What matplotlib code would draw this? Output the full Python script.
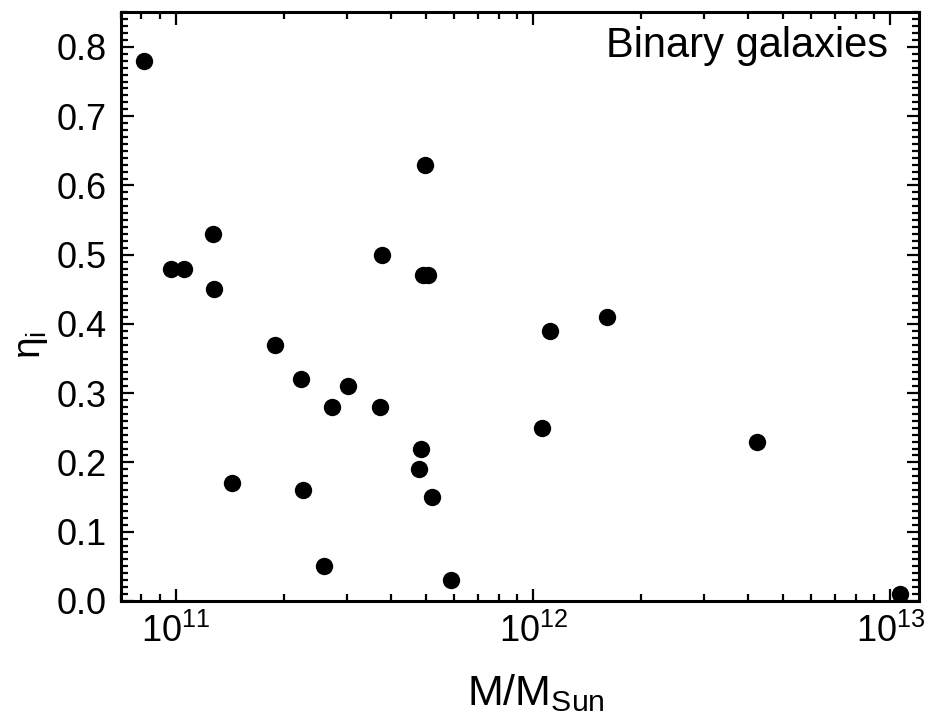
import numpy as np
import matplotlib
matplotlib.use("Agg")
import matplotlib.pyplot as plt
from matplotlib.ticker import LogLocator, MultipleLocator, FormatStrFormatter

# ---------------- DATA ----------------
mass = [8.15e10, 9.7e10, 1.05e11, 1.27e11, 1.28e11, 1.43e11, 1.89e11,
        2.23e11, 2.27e11, 2.60e11, 2.73e11, 3.03e11, 3.72e11, 3.77e11,
        4.97e11, 4.92e11, 5.08e11, 4.85e11, 4.79e11, 5.19e11, 5.88e11,
        1.055e12, 1.116e12, 1.61e12, 4.23e12, 1.06e13]
eta = [0.78, 0.48, 0.48, 0.53, 0.45, 0.17, 0.37,
       0.32, 0.16, 0.05, 0.28, 0.31, 0.28, 0.50,
       0.63, 0.47, 0.47, 0.22, 0.19, 0.15, 0.03,
       0.25, 0.39, 0.41, 0.23, 0.01]

# ---------------- STYLE ----------------
plt.rcParams["font.family"] = ["Liberation Sans", "DejaVu Sans"]
plt.rcParams["mathtext.fontset"] = "custom"
plt.rcParams["mathtext.rm"] = "Liberation Sans"
plt.rcParams["mathtext.it"] = "Liberation Sans:italic"
plt.rcParams["mathtext.default"] = "regular"

fig = plt.figure(figsize=(9.29, 7.24), dpi=100)
ax = fig.add_axes([0.130, 0.170, 0.859, 0.813])

ax.plot(mass, eta, "o", color="black", markersize=12.5, markeredgewidth=0)

ax.set_xscale("log")
ax.set_xlim(7.0e10, 1.2e13)
ax.set_ylim(0, 0.85)

ax.xaxis.set_major_locator(LogLocator(base=10, numticks=10))
ax.xaxis.set_minor_locator(LogLocator(base=10, subs=np.arange(2, 10), numticks=20))
ax.yaxis.set_major_locator(MultipleLocator(0.1))
ax.yaxis.set_minor_locator(MultipleLocator(0.01))
ax.yaxis.set_major_formatter(FormatStrFormatter("%.1f"))

ax.tick_params(which="both", direction="in", top=True, right=True, width=1.6)
ax.tick_params(which="major", length=9, labelsize=26)
ax.tick_params(axis="y", which="major", pad=10)
ax.tick_params(axis="x", which="major", pad=9)
ax.tick_params(which="minor", length=5)
for s in ax.spines.values():
    s.set_linewidth(2.2)

ax.set_xlabel(r"M/M$_{\mathrm{Sun}}$", fontsize=31)
ax.xaxis.set_label_coords(0.52, -0.121)
ax.set_ylabel(r"$\mathrm{\eta_i}$", fontsize=28)
ax.yaxis.set_label_coords(-0.089, 0.435)

ax.text(0.961, 0.924, "Binary galaxies", transform=ax.transAxes,
        ha="right", va="baseline", fontsize=30)

fig.savefig("out.png", dpi=100)
